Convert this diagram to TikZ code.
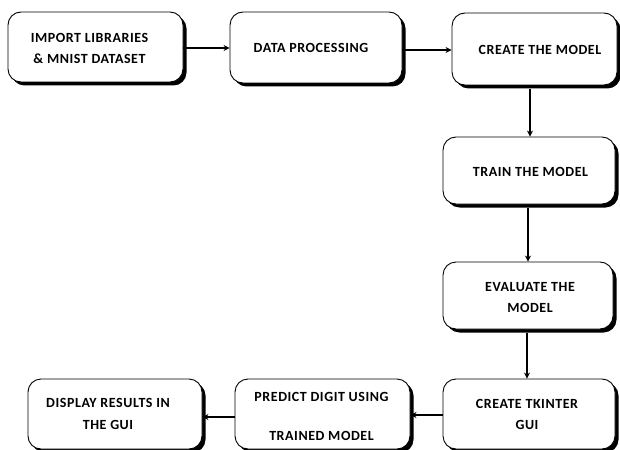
\documentclass[tikz,border=0pt]{standalone}
\usepackage{fontspec}
\newfontfamily\boxfont{Carlito}[LetterSpace=4]
\usetikzlibrary{arrows.meta,shadows}
\begin{document}
\begin{tikzpicture}[x=1pt,y=-1pt,
  box/.style={draw=black, line width=0.9pt, fill=white, rounded corners=13pt, inner sep=0pt,
    drop shadow={shadow xshift=3.5pt, shadow yshift=-3.5pt, fill=black, opacity=1}},
  txt/.style={font=\boxfont\bfseries\fontsize{14}{21.5}\selectfont, align=center, inner sep=0pt, text=black},
  arr/.style={line width=1.3pt, -{Stealth[length=6pt,width=6pt]}}]
\useasboundingbox (0,0) rectangle (620,449);
% boxes
\node[box, minimum width=175pt, minimum height=70pt] (b1) at (95.5,47) {};
\node[box, minimum width=172pt, minimum height=71pt] (b2) at (316,47.5) {};
\node[box, minimum width=165pt, minimum height=72pt] (b3) at (534.5,49) {};
\node[box, minimum width=172pt, minimum height=67pt] (b4) at (529,170.5) {};
\node[box, minimum width=170pt, minimum height=67pt] (b5) at (528,295.5) {};
\node[box, minimum width=172pt, minimum height=70pt] (b6) at (529,414) {};
\node[box, minimum width=175pt, minimum height=70pt] (b7) at (322.5,414) {};
\node[box, minimum width=174pt, minimum height=70pt] (b8) at (115,414) {};
% texts
\node[txt] (t1) at (89.5,48.5) {IMPORT LIBRARIES\\\& MNIST DATASET};
\node[txt] (t2) at (311,48) {DATA PROCESSING};
\node[txt] (t3) at (540,50) {CREATE THE MODEL};
\node[txt] (t4) at (530.5,172) {TRAIN THE MODEL};
\node[txt] (t5) at (530,297.5) {EVALUATE THE\\MODEL};
\node[txt] (t6) at (527,414.5) {CREATE TKINTER\\GUI};
\node[txt] (t7a) at (321.5,397) {PREDICT DIGIT USING};
\node[txt] (t7b) at (321.5,436) {TRAINED MODEL};
\node[txt] (t8) at (108,414) {DISPLAY RESULTS IN\\THE GUI};
% connectors
\coordinate (c3) at ([xshift=-4.5pt]b3.south);
\coordinate (c4) at ([xshift=-1pt]b4.south);
\coordinate (c5) at ([xshift=-1pt]b5.south);
\draw[arr] ([yshift=-1pt]b1.east) -- ([yshift=-1pt]b1.east -| b2.west);
\draw[arr] ([yshift=-2.5pt]b2.east) -- ([yshift=-2.5pt]b2.east -| b3.west);
\draw[arr] ([yshift=-3.5pt]c3) -- (c3 |- b4.north);
\draw[arr] ([yshift=-3.5pt]c4) -- (c4 |- b5.north);
\draw[arr] ([yshift=-3.5pt]c5) -- (c5 |- b6.north);
\draw[arr] ([yshift=-1pt]b6.west) -- ([yshift=-1pt]b6.west -| b7.east);
\draw[arr] ([yshift=-3pt]b7.west) -- ([yshift=-3pt]b7.west -| b8.east);
\end{tikzpicture}
\end{document}
